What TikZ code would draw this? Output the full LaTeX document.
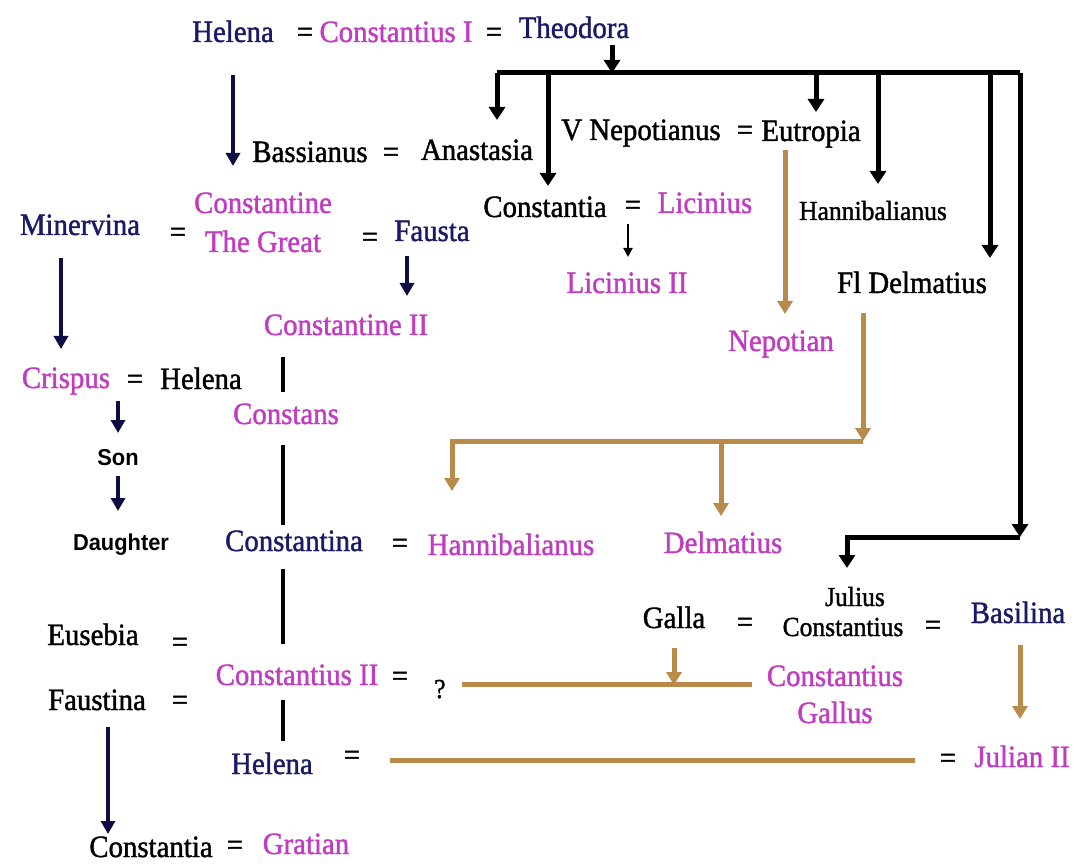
\documentclass[tikz,border=0pt]{standalone}
\usepackage{fontspec}
\setmainfont{Liberation Serif}[FakeStretch=0.93,FakeBold=1.3]
\newfontfamily\sansb{Liberation Sans}[FakeStretch=0.95]
\usetikzlibrary{arrows.meta}
\definecolor{navy}{HTML}{1A1A66}
\definecolor{navyln}{HTML}{0E0E45}
\definecolor{mag}{HTML}{C03CC0}
\definecolor{tan}{HTML}{BA8A4A}
\begin{document}
\begin{tikzpicture}[x=1pt,y=-1pt,
  every node/.style={inner sep=0pt,anchor=base},
  nm/.style={font=\fontsize{31}{36}\selectfont,text=black},
  nv/.style={nm,text=navy},
  mg/.style={nm,text=mag},
  sm/.style={font=\fontsize{27.5}{32}\selectfont,text=black},
  eqs/.style={font=\fontsize{31}{36}\selectfont,text=black},
  ss/.style={font=\sansb\bfseries\fontsize{23}{26}\selectfont,text=black},
  blkarr/.style={draw=black,line width=5pt,-{Triangle[width=16pt,length=13pt]}},
  blkln/.style={draw=black,line width=5pt,line join=miter},
  navarr/.style={draw=navyln,line width=4pt,-{Triangle[width=14pt,length=13pt]}},
  thinarr/.style={draw=black,line width=2pt,-{Triangle[width=9pt,length=9pt]}},
  vline/.style={draw=black,line width=4pt},
  tanarr/.style={draw=tan,line width=5pt,-{Triangle[width=15pt,length=13pt]}},
  tanln/.style={draw=tan,line width=5pt},
]
\useasboundingbox[fill=white] (0,0) rectangle (1081,866);

% ---- names
\node[nv] (helA) at (233,42) {Helena};
\node[eqs] (eq1) at (305,42) {=};
\node[mg] (c1) at (396,42) {Constantius I};
\node[eqs] (eq2) at (494,42) {=};
\node[nv] (theo) at (574,38) {Theodora};

\node[nm] (bass) at (310,162) {Bassianus};
\node[eqs] (eq3) at (391,162) {=};
\node[nm] (anas) at (477,160) {Anastasia};
\node[nm] (vnep) at (641,140) {V Nepotianus};
\node[eqs] (eq4) at (745,140) {=};
\node[nm] (eutr) at (811,141) {Eutropia};
\node[nm] (cstia) at (545,217) {Constantia};
\node[eqs] (eq5) at (633,215) {=};
\node[mg] (lic) at (705,213) {Licinius};
\node[mg] (lic2) at (627,293) {Licinius II};
\node[sm] (hanb) at (873,220) {Hannibalianus};
\node[nm] (fldel) at (912,293) {Fl Delmatius};
\node[mg] (nepo) at (781,351) {Nepotian};

\node[nv] (minv) at (80,235) {Minervina};
\node[eqs] (eq6) at (178,242) {=};
\node[mg] (ctgA) at (263,213) {Constantine};
\node[mg] (ctgB) at (263,252) {The Great};
\node[eqs] (eq7) at (370,247) {=};
\node[nv] (faus) at (432,241) {Fausta};
\node[mg] (c2) at (346,335) {Constantine II};

\node[mg] (cris) at (66,388) {Crispus};
\node[eqs] (eq8) at (135,389) {=};
\node[nm] (hel2) at (201,389) {Helena};
\node[ss] (son) at (118,465) {Son};
\node[ss] (daug) at (121,550) {Daughter};
\node[mg] (cons) at (286,424) {Constans};
\node[nv] (ctina) at (294,551) {Constantina};
\node[eqs] (eq9) at (400,553) {=};
\node[mg] (hanm) at (511,555) {Hannibalianus};
\node[mg] (delm) at (723,553) {Delmatius};

\node[nm] (euse) at (93,645) {Eusebia};
\node[eqs] (eq10) at (180,652) {=};
\node[nm] (faust) at (97,710) {Faustina};
\node[eqs] (eq11) at (180,710) {=};
\node[mg] (c2s) at (297,685) {Constantius II};
\node[eqs] (eq12) at (400,686) {=};
\node[sm] (qm) at (440,698) {?};
\node[nv] (hel3) at (272,774) {Helena};
\node[eqs] (eq13) at (352,765) {=};
\node[nm] (cstia2) at (151,857) {Constantia};
\node[eqs] (eq14) at (235,855) {=};
\node[mg] (grat) at (306,854) {Gratian};

\node[nm] (galla) at (674,628) {Galla};
\node[eqs] (eq15) at (745,632) {=};
\node[sm] (jcA) at (855,606) {Julius};
\node[sm] (jcB) at (843,636) {Constantius};
\node[eqs] (eq16) at (933,635) {=};
\node[nv] (basi) at (1018,623) {Basilina};
\node[mg] (cgA) at (835,686) {Constantius};
\node[mg] (cgB) at (835,723) {Gallus};
\node[eqs] (eq17) at (948,768) {=};
\node[mg] (jul) at (1022,767) {Julian II};

% ---- coordinates
\coordinate (thA) at (612,45);
\coordinate (thB) at (612,73);
\coordinate (barL) at (497,73);
\coordinate (barR) at (1020,73);
\coordinate (dA) at (548,73);
\coordinate (dB) at (816,73);
\coordinate (dC) at (878,73);
\coordinate (dD) at (990,73);
\coordinate (jcCorner) at (1020,537);
\coordinate (jcTurn) at (847,537);
\coordinate (jcEnd) at (847,568);

% ---- black bar and drops
\draw[blkln] (barL) -- (barR);
\draw[blkarr] (thA) -- (thB);
\draw[blkarr] (barL) -- (497,120) coordinate (anasTop);
\draw[blkarr] (dA) -- (548,186) coordinate (cstiaTop);
\draw[blkarr] (dB) -- (816,112) coordinate (eutrTop);
\draw[blkarr] (dC) -- (878,184) coordinate (hanbTop);
\draw[blkarr] (dD) -- (990,258) coordinate (fldelTop);
\draw[blkarr] (barR) -- (jcCorner);
\draw[blkarr] (jcCorner) -- (jcTurn) -- (jcEnd);

% ---- navy arrows
\coordinate (hA) at (233,75); \coordinate (hB) at (233,166);
\draw[navarr] (hA) -- (hB);
\coordinate (mA) at (61,258); \coordinate (mB) at (61,349);
\draw[navarr] (mA) -- (mB);
\coordinate (fA) at (407,256); \coordinate (fB) at (407,296);
\draw[navarr] (fA) -- (fB);
\coordinate (sA) at (118,401); \coordinate (sB) at (118,433);
\draw[navarr] (sA) -- (sB);
\coordinate (dgA) at (118,476); \coordinate (dgB) at (118,511);
\draw[navarr] (dgA) -- (dgB);
\coordinate (faA) at (108,727); \coordinate (faB) at (108,834);
\draw[navarr] (faA) -- (faB);
\coordinate (lA) at (628,224); \coordinate (lB) at (628,257);
\draw[thinarr] (lA) -- (lB);

% ---- plain vertical lines
\coordinate (v1a) at (283,357); \coordinate (v1b) at (283,392);
\coordinate (v2a) at (283,445); \coordinate (v2b) at (283,525);
\coordinate (v3a) at (283,569); \coordinate (v3b) at (283,644);
\coordinate (v4a) at (283,700); \coordinate (v4b) at (283,741);
\draw[vline] (v1a) -- (v1b);
\draw[vline] (v2a) -- (v2b);
\draw[vline] (v3a) -- (v3b);
\draw[vline] (v4a) -- (v4b);

% ---- tan lines
\coordinate (eA) at (785,150); \coordinate (eB) at (785,314);
\draw[tanarr] (eA) -- (eB);
\coordinate (flA) at (863,313); \coordinate (flB) at (863,441);
\draw[tanarr] (flA) -- (flB);
\coordinate (brL) at (452,441); \coordinate (brM) at (721,441);
\draw[tanarr] (flB) -- (brL) -- (452,491) coordinate (hanmTop);
\draw[tanarr] (brM) -- (721,516) coordinate (delmTop);
\coordinate (gL) at (462,684); \coordinate (gR) at (752,684);
\draw[tanln] (gL) -- (gR);
\coordinate (gaA) at (674,648); \coordinate (gaB) at (674,685);
\draw[tanarr] (gaA) -- (gaB);
\coordinate (bA) at (1020,645); \coordinate (bB) at (1020,719);
\draw[tanarr] (bA) -- (bB);
\coordinate (jL) at (390,760); \coordinate (jR) at (915,760);
\draw[tanln] (jL) -- (jR);
\end{tikzpicture}
\end{document}
